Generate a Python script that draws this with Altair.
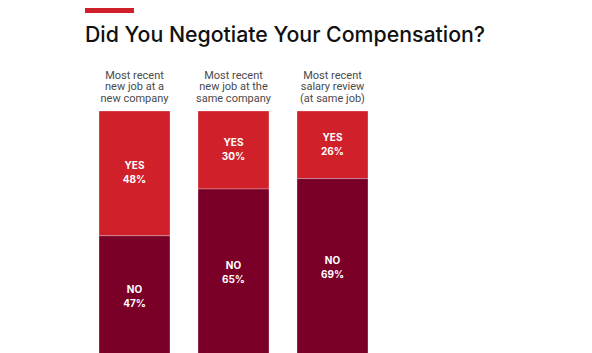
import altair as alt
import pandas as pd

title_text = "Did You Negotiate Your Compensation?"
categories = ["Most recent|new job at a|new company",
              "Most recent|new job at the|same company",
              "Most recent|salary review|(at same job)"]
yes_values = [48, 30, 26]
no_values = [47, 65, 69]
answers = ["YES", "NO"]
colors = ["#D0212B", "#7B0027"]

rows = []
for c, yv, nv in zip(categories, yes_values, no_values):
    rows.append({"cat": c, "answer": "YES", "value": yv, "ord": 0})
    rows.append({"cat": c, "answer": "NO", "value": nv, "ord": 1})
df = pd.DataFrame(rows)

base = alt.Chart(df).transform_stack(
    stack="value", groupby=["cat"], as_=["y0", "y1"],
    sort=[alt.SortField("ord", order="ascending")]
).transform_calculate(
    mid="(datum.y0 + datum.y1) / 2",
    lbl="datum.answer + '\\n' + datum.value + '%'"
)

xenc = alt.X("cat:N", sort=categories, title=None,
             scale=alt.Scale(paddingInner=0.283, paddingOuter=0.1415),
             axis=alt.Axis(orient="top", domain=False, ticks=False,
                           labelExpr="split(datum.label, '|')",
                           labelFont="Roboto", labelFontSize=11,
                           labelColor="#4a4a4a", labelLineHeight=11.5,
                           labelPadding=31, labelAngle=0))
yscale = alt.Scale(domain=[0, 93.08], reverse=True, nice=False, zero=False)

bars = base.mark_bar(clip=True, stroke="white", strokeOpacity=0.35,
                     strokeWidth=0.8).encode(
    x=xenc,
    y=alt.Y("y0:Q", scale=yscale, axis=None),
    y2="y1:Q",
    color=alt.Color("answer:N", scale=alt.Scale(domain=answers, range=colors),
                    legend=None),
)

labels = base.mark_text(color="white", font="Inter", fontWeight="bold",
                        fontSize=10, lineBreak="\n", lineHeight=14,
                        baseline="middle", dy=-7).encode(
    x=alt.X("cat:N", sort=categories),
    y=alt.Y("mid:Q", scale=yscale),
    text="lbl:N",
)

accent = alt.Chart(pd.DataFrame({"a": [0]})).mark_rule(
    color="#D0212B", strokeWidth=5).encode(
    x=alt.value(0), x2=alt.value(49), y=alt.value(-100.5))

title = alt.Chart(pd.DataFrame({"t": [title_text]})).mark_text(
    font="Inter", fontSize=21.3, fontWeight=500, color="#111111",
    align="left", baseline="alphabetic").encode(
    x=alt.value(0), y=alt.value(-69), text="t:N")

chart = alt.layer(bars, labels, accent, title).properties(
    width=297, height=242,
    autosize=alt.AutoSizeParams(type="none"),
    padding={"left": 85, "top": 111, "right": 210, "bottom": 0},
    background="white",
).configure_view(stroke=None)

chart.save("out.html", embed_options={"renderer": "svg", "actions": False})
